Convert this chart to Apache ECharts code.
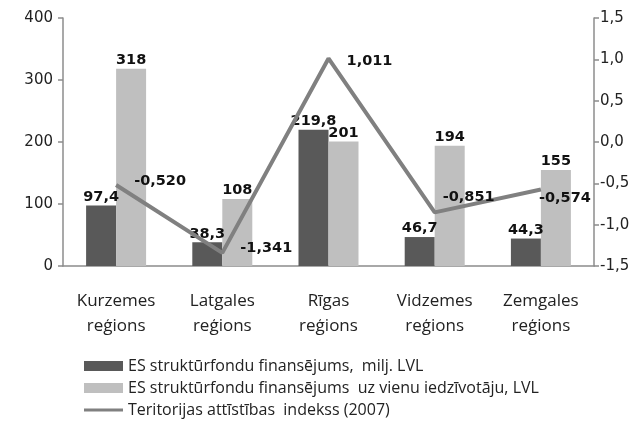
<!DOCTYPE html>
<html>
<head>
<meta charset="utf-8">
<script src="https://cdn.jsdelivr.net/npm/echarts@6/dist/echarts.min.js"></script>
<style>
  html, body { margin: 0; padding: 0; background: #fff; }
  #main { width: 644px; height: 427px; }
</style>
</head>
<body>
<div id="main"></div>
<script>
// dati
var regions = ['Kurzemes\nreģions', 'Latgales\nreģions', 'Rīgas\nreģions', 'Vidzemes\nreģions', 'Zemgales\nreģions'];
var fundsMln = [97.4, 38.3, 219.8, 46.7, 44.3];
var fundsPerCapita = [318, 108, 201, 194, 155];
var devIndex = [-0.520, -1.341, 1.011, -0.851, -0.574];

var names = [
  'ES struktūrfondu finansējums,  milj. LVL',
  'ES struktūrfondu finansējums  uz vienu iedzīvotāju, LVL',
  'Teritorijas attīstības  indekss (2007)'
];

// label nobīdes indeksa līnijai (tikai izkārtojums)
var indexLabelShift = [[0, -4], [0, -5], [0, 3], [-10, -15], [-20, 9]];

function comma(v, d) {
  return v.toFixed(d).replace('.', ',');
}

var chart = echarts.init(document.getElementById('main'));

var labelFont = {
  fontFamily: 'DejaVu Sans',
  fontWeight: 'bold',
  fontSize: 14.5,
  color: '#111'
};

var axisColor = '#8c8c8c';

var option = {
  animation: false,
  color: ['#595959', '#bfbfbf', '#808080'],
  grid: {
    left: 63,
    right: 50,
    top: 18,
    bottom: 161
  },
  legend: {
    orient: 'vertical',
    left: 79,
    top: 353,
    itemWidth: 39,
    itemHeight: 10,
    itemGap: 6,
    textStyle: {
      fontFamily: 'Open Sans',
      fontSize: 16,
      color: '#222'
    },
    data: [
      { name: names[0], icon: 'rect' },
      { name: names[1], icon: 'rect' },
      { name: names[2], icon: 'path://M0,4 L38,4 L38,7 L0,7 Z' }
    ]
  },
  xAxis: {
    type: 'category',
    data: regions,
    axisLine: { lineStyle: { color: axisColor, width: 1.5 } },
    axisTick: { length: 5, lineStyle: { color: axisColor, width: 1.5 } },
    axisLabel: {
      fontFamily: 'Open Sans',
      fontSize: 17,
      color: '#222',
      lineHeight: 25,
      margin: 23
    }
  },
  yAxis: [
    {
      type: 'value',
      min: 0,
      max: 400,
      interval: 100,
      splitLine: { show: false },
      axisLine: { show: true, lineStyle: { color: axisColor, width: 1.5 } },
      axisTick: { show: true, length: 5, lineStyle: { color: axisColor, width: 1.5 } },
      axisLabel: {
        fontFamily: 'DejaVu Sans',
        fontSize: 15,
        color: '#222',
        margin: 10
      }
    },
    {
      type: 'value',
      min: -1.5,
      max: 1.5,
      interval: 0.5,
      splitLine: { show: false },
      axisLine: { show: true, lineStyle: { color: axisColor, width: 1.5 } },
      axisTick: { show: true, length: 5, lineStyle: { color: axisColor, width: 1.5 } },
      axisLabel: {
        fontFamily: 'DejaVu Sans',
        fontSize: 15,
        color: '#222',
        margin: 6,
        formatter: function (v) { return comma(v, 1); }
      }
    }
  ],
  series: [
    {
      name: names[0],
      type: 'bar',
      data: fundsMln,
      barWidth: 30,
      barGap: '0%',
      label: Object.assign({
        show: true,
        position: 'top',
        distance: 1,
        formatter: function (p) { return comma(p.value, 1); }
      }, labelFont)
    },
    {
      name: names[1],
      type: 'bar',
      data: fundsPerCapita,
      barWidth: 30,
      barGap: '0%',
      label: Object.assign({
        show: true,
        position: 'top',
        distance: 1,
        formatter: function (p) { return comma(p.value, 0); }
      }, labelFont)
    },
    {
      name: names[2],
      type: 'line',
      yAxisIndex: 1,
      data: devIndex.map(function (v, i) {
        return { value: v, label: { offset: indexLabelShift[i] } };
      }),
      symbol: 'circle',
      symbolSize: 0.1,
      itemStyle: { color: '#808080' },
      lineStyle: { width: 4, color: '#808080' },
      label: Object.assign({
        show: true,
        position: 'right',
        distance: 18,
        formatter: function (p) { return comma(p.value, 3); }
      }, labelFont)
    }
  ]
};

chart.setOption(option);
</script>
</body>
</html>
